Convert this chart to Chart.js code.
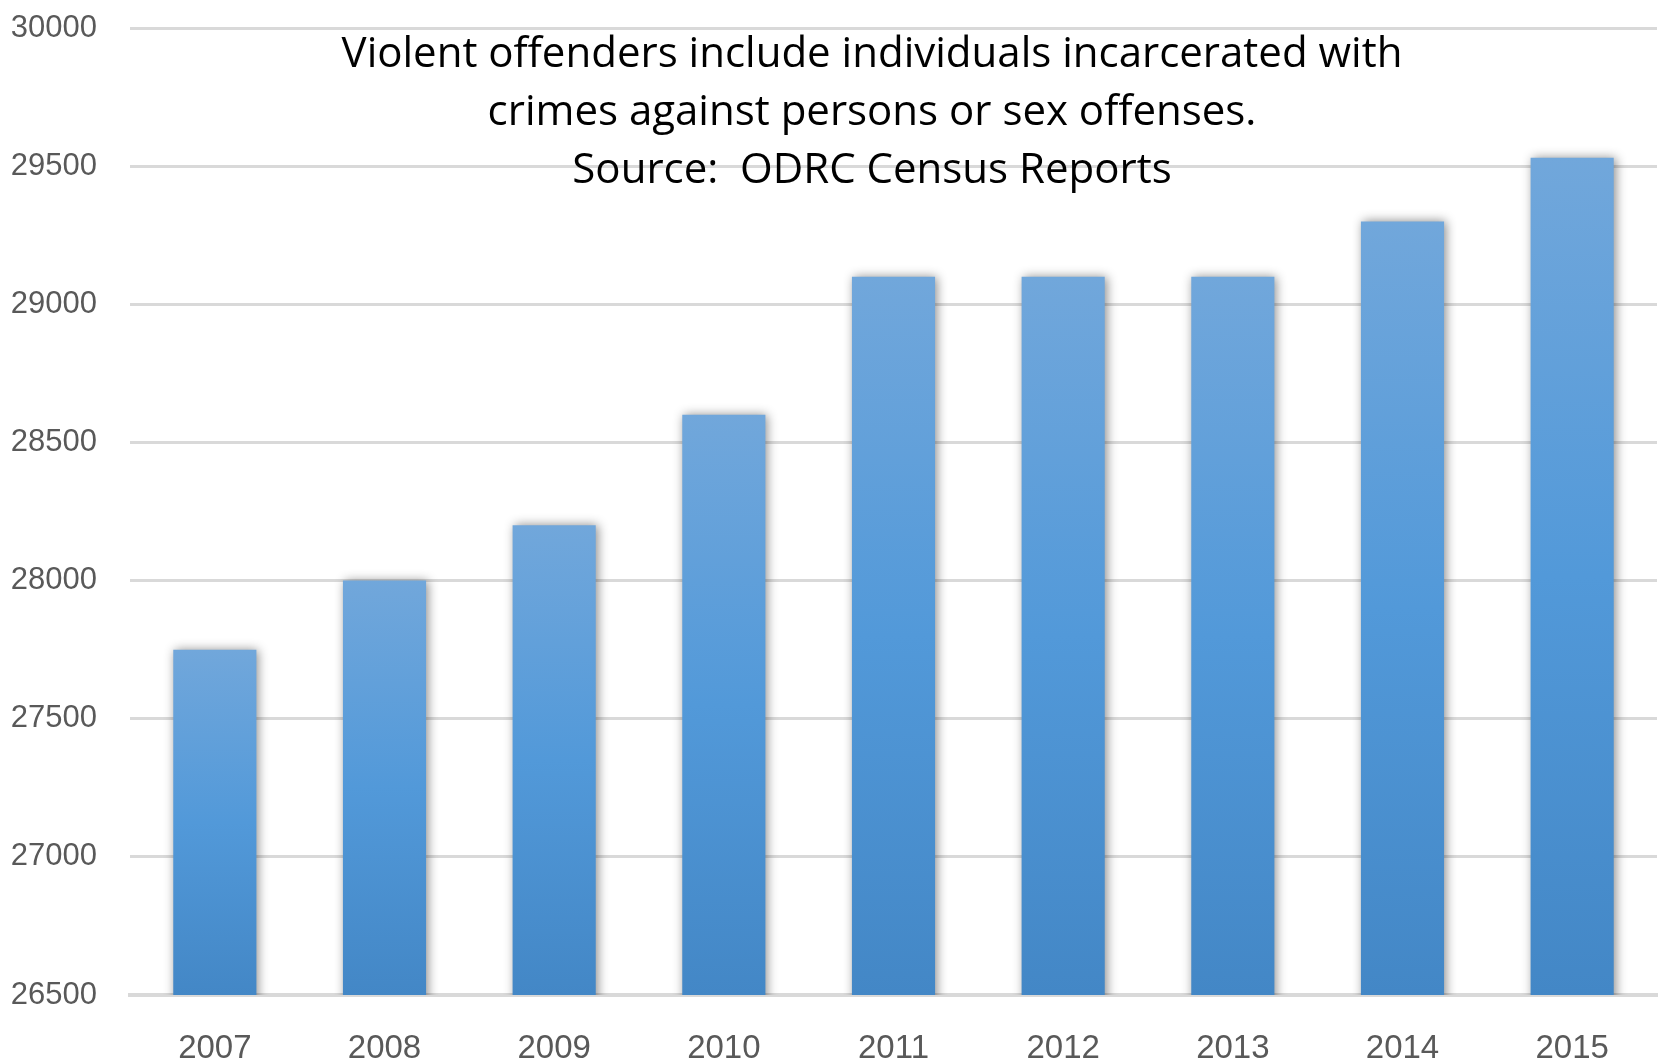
<!DOCTYPE html>
<html>
<head>
<meta charset="utf-8">
<script src="https://cdn.jsdelivr.net/npm/chart.js@4/dist/chart.umd.min.js"></script>
<style>
  html, body { margin: 0; padding: 0; background: #fff; overflow: hidden; }
  #wrap { width: 1661px; height: 1090px; position: relative; }
</style>
</head>
<body>
<div id="wrap"><canvas id="myChart"></canvas></div>
<script>
const years = ['2007', '2008', '2009', '2010', '2011', '2012', '2013', '2014', '2015'];
const violentOffenders = [27750, 28000, 28200, 28600, 29100, 29100, 29100, 29300, 29530];
const yMin = 26500;
const yMax = 30000;
const yStep = 500;
const noteLines = [
  'Violent offenders include individuals incarcerated with',
  'crimes against persons or sex offenses.',
  'Source:  ODRC Census Reports',
];

function barGradient(context) {
  const chart = context.chart;
  const scaleY = chart.scales.y;
  if (!scaleY || context.raw == null) return '#5b9bd5';
  const top = scaleY.getPixelForValue(context.raw);
  const bottom = scaleY.getPixelForValue(yMin);
  if (!isFinite(top) || !isFinite(bottom) || top === bottom) return '#5b9bd5';
  const g = chart.ctx.createLinearGradient(0, top, 0, bottom);
  g.addColorStop(0, '#71a7db');
  g.addColorStop(0.5, '#5299d9');
  g.addColorStop(1, '#4387c6');
  return g;
}

const barShadow = {
  id: 'barShadow',
  beforeDatasetsDraw(chart) {
    const ctx = chart.ctx;
    ctx.save();
    ctx.shadowColor = 'rgba(0, 0, 0, 0.45)';
    ctx.shadowBlur = 10;
    ctx.shadowOffsetX = 2;
    ctx.shadowOffsetY = 0;
  },
  afterDatasetsDraw(chart) {
    chart.ctx.restore();
  },
};

const noteText = {
  id: 'noteText',
  afterDraw(chart) {
    const ctx = chart.ctx;
    ctx.save();
    ctx.font = '42px "Open Sans"';
    ctx.fillStyle = '#000';
    ctx.textAlign = 'center';
    ctx.textBaseline = 'middle';
    noteLines.forEach((line, i) => {
      ctx.fillText(line, 872, 55 + i * 58);
    });
    ctx.restore();
  },
};

const data = {
  labels: years,
  datasets: [
    {
      label: 'Violent offenders',
      data: violentOffenders,
      backgroundColor: barGradient,
      borderWidth: 0,
      categoryPercentage: 1,
      barPercentage: 0.49,
    },
  ],
};

const config = {
  type: 'bar',
  data: data,
  options: {
    responsive: true,
    maintainAspectRatio: false,
    animation: false,
    layout: {
      padding: { top: 28, right: 4, left: 0, bottom: 0 },
    },
    plugins: {
      legend: { display: false },
      tooltip: { enabled: false },
    },
    scales: {
      x: {
        afterFit(scale) {
          scale.height = 95;
        },
        grid: { display: false, drawTicks: false },
        border: { display: true, color: '#d9d9d9', width: 4 },
        ticks: {
          color: '#595959',
          font: { family: '"Liberation Sans"', size: 33 },
          padding: 34,
        },
      },
      y: {
        min: yMin,
        max: yMax,
        afterFit(scale) {
          scale.width = 130;
          scale.paddingTop = 0;
          scale.paddingBottom = 0;
        },
        grid: { color: '#d9d9d9', lineWidth: 3, drawTicks: false },
        border: { display: false },
        ticks: {
          stepSize: yStep,
          color: '#595959',
          padding: 33,
          font: { family: '"Liberation Sans"', size: 31 },
          callback: (v) => String(v),
        },
      },
    },
  },
  plugins: [barShadow, noteText],
};

const myChart = new Chart(document.getElementById('myChart'), config);
</script>
</body>
</html>
